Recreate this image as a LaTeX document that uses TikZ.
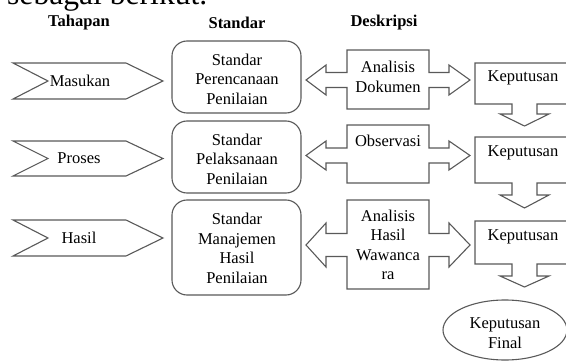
\documentclass[tikz,border=0pt]{standalone}
\usepackage{fontspec}
\setmainfont{Liberation Serif}
\usetikzlibrary{shapes.geometric}
\begin{document}
\begin{tikzpicture}[x=1pt,y=-1pt,
  shp/.style={draw=black!65,line width=1.1pt,line join=miter,fill=white},
  txt/.style={font=\fontsize{16.5}{19.5}\selectfont,align=center,inner sep=0pt,text=black},
  hdr/.style={font=\fontsize{16.5}{19.5}\selectfont\bfseries,inner sep=0pt}]
\useasboundingbox (0,0) rectangle (566,361);
\begin{scope}
\clip (0,0) rectangle (566,361);
% top cut text
\node[anchor=base west,inner sep=0pt,font=\fontsize{31.6}{36}\selectfont] (intro) at (7,5) {sebagai berikut.};
% headers
\node[hdr] (hT) at (79,23) {Tahapan};
\node[hdr] (hS) at (237,23) {Standar};
\node[hdr] (hD) at (384,23) {Deskripsi};
% chevrons
\draw[shp] (13,63) -- (126,63) -- (163,81) -- (126,99) -- (13,99) -- (48,81) -- cycle;
\draw[shp] (13,141) -- (126,141) -- (163,158.5) -- (126,176) -- (13,176) -- (48,158.5) -- cycle;
\draw[shp] (13,220) -- (126,220) -- (163,238) -- (126,256) -- (13,256) -- (48,238) -- cycle;
\node[txt] (t1) at (80,81) {Masukan};
\node[txt] (t2) at (79,158.5) {Proses};
\node[txt] (t3) at (79,238) {Hasil};
% standard boxes
\draw[shp,rounded corners=15pt] (172,41) rectangle (301,113);
\draw[shp,rounded corners=15pt] (172,121) rectangle (301,193);
\draw[shp,rounded corners=15pt] (172,200) rectangle (301,295);
\node[txt] (s1) at (237,79) {Standar\\Perencanaan\\Penilaian};
\node[txt] (s2) at (237,159) {Standar\\Pelaksanaan\\Penilaian};
\node[txt] (s3) at (237,248.5) {Standar\\Manajemen\\Hasil\\Penilaian};
% double arrows
\draw[shp] (306,80) -- (326,65) -- (326,72.5) -- (347,72.5) -- (347,50) -- (429,50) -- (429,72.5) -- (449,72.5) -- (449,65) -- (470,80) -- (449,95) -- (449,87.5) -- (429,87.5) -- (429,109) -- (347,109) -- (347,87.5) -- (326,87.5) -- (326,95) -- cycle;
\draw[shp] (306,155.5) -- (326,141) -- (326,148) -- (347,148) -- (347,125) -- (429,125) -- (429,148) -- (449,148) -- (449,141) -- (470,155.5) -- (449,170) -- (449,163) -- (429,163) -- (429,183) -- (347,183) -- (347,163) -- (326,163) -- (326,170) -- cycle;
\draw[shp] (306,245) -- (326,223) -- (326,233.5) -- (347,233.5) -- (347,200) -- (429,200) -- (429,233.5) -- (449,233.5) -- (449,223) -- (470,245) -- (449,267) -- (449,256.5) -- (429,256.5) -- (429,289) -- (347,289) -- (347,256.5) -- (326,256.5) -- (326,267) -- cycle;
\node[txt] (d1) at (388,77) {Analisis\\Dokumen};
\node[txt] (d2) at (388,141) {Observasi};
\node[txt] (d3) at (388,245) {Analisis\\Hasil\\Wawanca\\ra};
% decision callouts
\draw[shp] (475,63) -- (573,63) -- (573,104) -- (537,104) -- (537,114) -- (549,114) -- (524.5,126) -- (500,114) -- (512,114) -- (512,104) -- (475,104) -- cycle;
\draw[shp] (475,137) -- (573,137) -- (573,183) -- (537,183) -- (537,195) -- (549,195) -- (524.5,208) -- (500,195) -- (512,195) -- (512,183) -- (475,183) -- cycle;
\draw[shp] (475,221) -- (573,221) -- (573,264) -- (537,264) -- (537,276) -- (549,276) -- (524.5,287) -- (500,276) -- (512,276) -- (512,264) -- (475,264) -- cycle;
\node[txt] (k1) at (523,78) {Keputusan};
\node[txt] (k2) at (523,153) {Keputusan};
\node[txt] (k3) at (523,237) {Keputusan};
% final ellipse
\draw[shp] (505,330) ellipse [x radius=62, y radius=30];
\node[txt] (kf) at (505,333) {Keputusan\\Final};
\end{scope}
\end{tikzpicture}
\end{document}
